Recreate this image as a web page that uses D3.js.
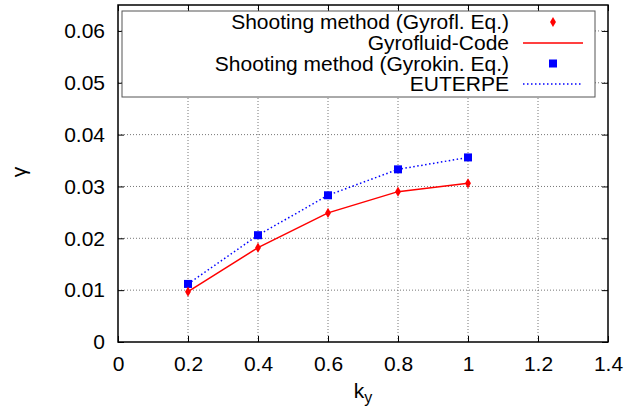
<!DOCTYPE html>
<html><head><meta charset="utf-8">
<script src="https://cdn.jsdelivr.net/npm/d3@7"></script>
<style>body{margin:0;background:#fff}svg{display:block}text{font-family:"Liberation Sans",Arial,sans-serif}</style>
</head><body><svg id="c" width="628" height="412"></svg>
<script>
const kyValues = [0.2, 0.4, 0.6, 0.8, 1.0];
const shootingGyrofluid = [0.0097, 0.0182, 0.0249, 0.0290, 0.0306];
const gyrofluidCode = [0.0097, 0.0182, 0.0249, 0.0290, 0.0306];
const shootingGyrokin = [0.0112, 0.0206, 0.0283, 0.0333, 0.0356];
const euterpe = [0.0112, 0.0206, 0.0283, 0.0333, 0.0356];
const xTicks = [0, 0.2, 0.4, 0.6, 0.8, 1.0, 1.2, 1.4];
const yTicks = [0, 0.01, 0.02, 0.03, 0.04, 0.05, 0.06];
const legendLabels = ["Shooting method (Gyrofl. Eq.)", "Gyrofluid-Code", "Shooting method (Gyrokin. Eq.)", "EUTERPE"];

const svg = d3.select("#c");
const L = 118, R = 608, T = 5, B = 342;
const x = d3.scaleLinear().domain([0, 1.4]).range([L, R]);
const y = d3.scaleLinear().domain([0, 0.065]).range([B, T]);
const fs = 21;

// grid
const g = svg.append("g");
g.selectAll(".gx").data(xTicks.slice(1, -1)).join("line")
  .attr("x1", d => x(d)).attr("x2", d => x(d)).attr("y1", T).attr("y2", B)
  .attr("stroke", "#777").attr("stroke-width", 1).attr("stroke-dasharray", "1,2");
g.selectAll(".gy").data(yTicks.slice(1)).join("line")
  .attr("y1", d => y(d)).attr("y2", d => y(d)).attr("x1", L).attr("x2", R)
  .attr("stroke", "#777").attr("stroke-width", 1).attr("stroke-dasharray", "1,2");

// axes via d3
const xa = svg.append("g").attr("transform", `translate(0,${B})`)
  .call(d3.axisBottom(x).tickValues(xTicks).tickSize(-6).tickPadding(14).tickFormat(d3.format("")));
const xt = svg.append("g").attr("transform", `translate(0,${T})`)
  .call(d3.axisTop(x).tickValues(xTicks).tickSize(-6).tickFormat(""));
const ya = svg.append("g").attr("transform", `translate(${L},0)`)
  .call(d3.axisLeft(y).tickValues(yTicks).tickSize(-6).tickPadding(13).tickFormat(d3.format("")));
const yr = svg.append("g").attr("transform", `translate(${R},0)`)
  .call(d3.axisRight(y).tickValues(yTicks).tickSize(-6).tickFormat(""));
[xa, xt, ya, yr].forEach(a => {
  a.select(".domain").remove();
  a.selectAll("line").attr("stroke", "#000");
  a.selectAll("text").attr("font-size", fs).attr("font-family", "Liberation Sans, Arial, sans-serif").attr("fill", "#000");
});
svg.append("rect").attr("x", L).attr("y", T).attr("width", R - L).attr("height", B - T)
  .attr("fill", "none").attr("stroke", "#000").attr("stroke-width", 1.5);

// axis labels
svg.append("text").attr("x", 363).attr("y", 398).attr("text-anchor", "middle").attr("font-size", fs)
  .text("k").append("tspan").attr("font-size", 16).attr("dy", 5).text("y");
svg.append("text").attr("transform", "translate(26,172) rotate(-90)").attr("text-anchor", "middle").attr("font-size", fs).text("γ");

// lines
const line = d3.line().x((d, i) => x(kyValues[i])).y(d => y(d));
svg.append("path").datum(euterpe).attr("d", line).attr("fill", "none").attr("stroke", "#0000ff")
  .attr("stroke-width", 1.5).attr("stroke-dasharray", "1.5,2.5");
svg.append("path").datum(gyrofluidCode).attr("d", line).attr("fill", "none").attr("stroke", "#ff0000").attr("stroke-width", 1.5);
svg.selectAll(".sq").data(shootingGyrokin).join("rect")
  .attr("x", (d, i) => x(kyValues[i]) - 4).attr("y", d => y(d) - 4).attr("width", 8).attr("height", 8).attr("fill", "#0000ff");
svg.selectAll(".dm").data(shootingGyrofluid).join("path")
  .attr("d", d3.symbol(d3.symbolDiamond, 30)())
  .attr("transform", (d, i) => `translate(${x(kyValues[i])},${y(d)})`).attr("fill", "#ff0000");

// legend
const lg = svg.append("g");
lg.append("rect").attr("x", 122).attr("y", 11).attr("width", 473).attr("height", 86)
  .attr("fill", "#fff").attr("stroke", "#555").attr("stroke-width", 1);
const rows = [22, 43, 63.5, 84];
legendLabels.forEach((t, i) => {
  lg.append("text").attr("x", 509).attr("y", rows[i]).attr("dy", "0.35em").attr("text-anchor", "end")
    .attr("font-size", fs).text(t);
});
lg.append("path").attr("d", d3.symbol(d3.symbolDiamond, 30)()).attr("transform", `translate(553,${rows[0]})`).attr("fill", "#ff0000");
lg.append("line").attr("x1", 523).attr("x2", 583).attr("y1", rows[1]).attr("y2", rows[1]).attr("stroke", "#ff0000").attr("stroke-width", 1.5);
lg.append("rect").attr("x", 549).attr("y", rows[2] - 4).attr("width", 8).attr("height", 8).attr("fill", "#0000ff");
lg.append("line").attr("x1", 523).attr("x2", 583).attr("y1", rows[3]).attr("y2", rows[3]).attr("stroke", "#0000ff").attr("stroke-width", 1.5).attr("stroke-dasharray", "1.5,2.5");
</script></body></html>
